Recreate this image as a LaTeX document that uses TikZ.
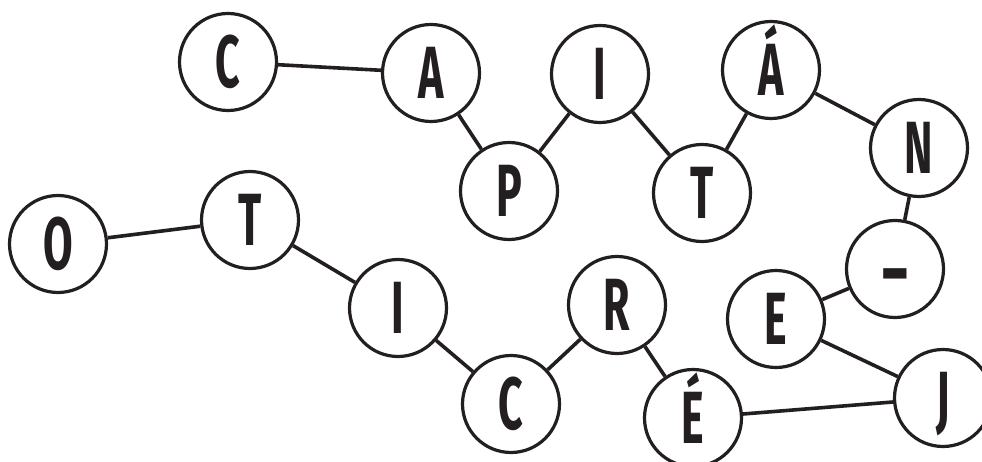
\documentclass[tikz,border=0pt]{standalone}
\usepackage{fontspec}
\usepackage{graphicx}
\newfontfamily\lettfont[FakeStretch=0.58]{Fira Sans}
\definecolor{ink}{HTML}{231F20}
\begin{document}
\begin{tikzpicture}[x=1pt,y=1pt,
  letter/.style={circle,draw=ink,line width=3.2pt,minimum size=97pt,inner sep=0pt,fill=white,
    text=ink,text height=51pt,text depth=0pt,font=\lettfont\bfseries\fontsize{74}{74}\selectfont},
  link/.style={draw=ink,line width=3.6pt}]
\useasboundingbox (0,0) rectangle (982,-462);
\clip (0,0) rectangle (982,-462);
\node[letter] (c1) at (228,-62) {C};
\node[letter] (a) at (431,-73) {A};
\node[letter] (p) at (509,-191) {P};
\node[letter] (i1) at (600,-74) {I};
\node[letter] (t1) at (702,-193) {T};
\node[letter] (aa) at (771,-70) {Á};
\node[letter] (n) at (919,-148) {N};
\node[letter] (h) at (895,-269) {\raisebox{-6pt}{\scalebox{1.7}[1.15]{-}}};
\node[letter] (e) at (776,-319) {E};
\node[letter] (j) at (943,-398) {J};
\node[letter] (ee) at (693,-418) {É};
\node[letter] (r) at (617,-305) {R};
\node[letter] (c2) at (511,-404) {C};
\node[letter] (i2) at (398,-308) {I};
\node[letter] (t2) at (250,-220) {T};
\node[letter] (o) at (58,-244) {O};
\draw[link] (c1) -- (a);
\draw[link] (a) -- (p);
\draw[link] (p) -- (i1);
\draw[link] (i1) -- (t1);
\draw[link] (t1) -- (aa);
\draw[link] (aa) -- (n);
\draw[link] (n) -- (h);
\draw[link] (h) -- (e);
\draw[link] (e) -- (j);
\draw[link] (j) -- (ee);
\draw[link] (ee) -- (r);
\draw[link] (r) -- (c2);
\draw[link] (c2) -- (i2);
\draw[link] (i2) -- (t2);
\draw[link] (t2) -- (o);
\end{tikzpicture}
\end{document}
